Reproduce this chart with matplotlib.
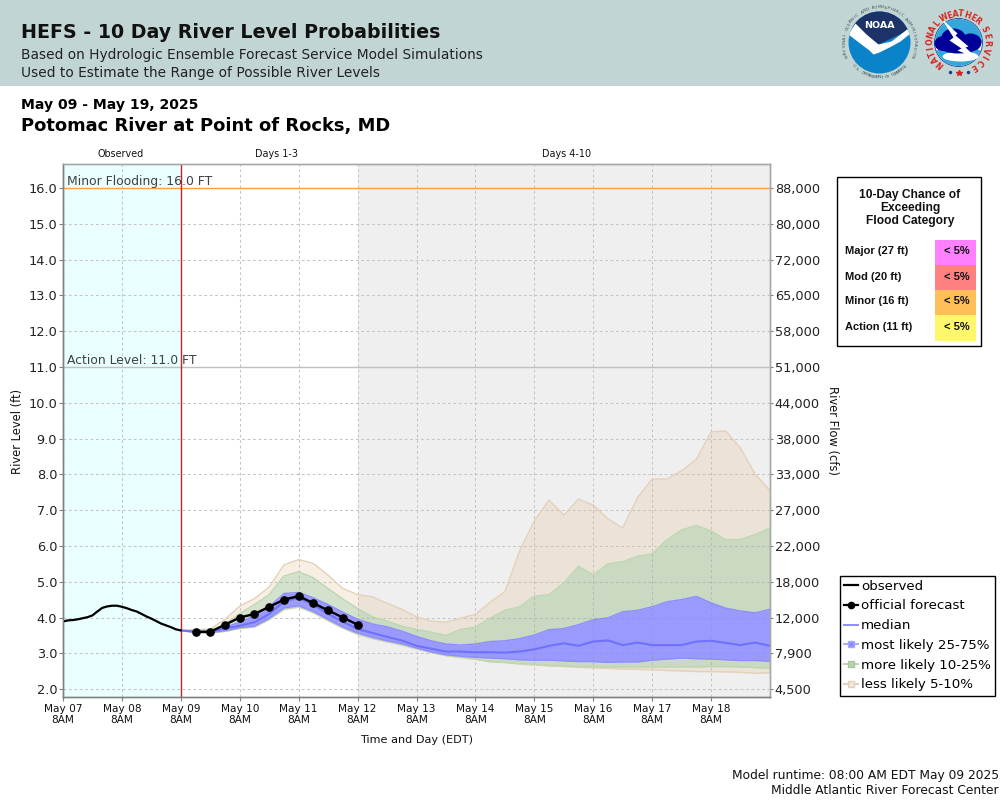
import numpy as np
import pandas as pd
import matplotlib
matplotlib.use("Agg")
import matplotlib.pyplot as plt
import matplotlib.dates as mdates
from matplotlib.lines import Line2D
from matplotlib.patches import Circle, Wedge, Polygon, Rectangle, Ellipse

# ---------- data ----------
observed_level = [3.89, 3.92, 3.93, 3.95, 3.98, 4.01, 4.06, 4.17, 4.27, 4.31, 4.33, 4.33, 4.30, 4.26, 4.21,
                  4.17, 4.10, 4.03, 3.97, 3.90, 3.83, 3.78, 3.73, 3.67, 3.64]
forecast_level = [3.6, 3.6, 3.8, 4.0, 4.1, 4.3, 4.5, 4.6, 4.4, 4.2, 4.0, 3.8]
tan_top = [3.65,3.66,3.68,3.95,4.32,4.53,4.85,5.47,5.62,5.51,5.18,4.81,4.64,4.58,4.40,
           4.23,4.02,3.90,3.87,3.98,4.09,4.43,4.72,5.86,6.70,7.28,6.86,7.31,7.14,6.76,6.50,
           7.35,7.87,7.87,8.10,8.42,9.19,9.21,8.73,8.00,7.54]
green_top = [3.64,3.63,3.65,3.80,4.11,4.36,4.64,5.16,5.28,5.11,4.81,4.52,4.25,4.02,3.90,
             3.76,3.67,3.59,3.50,3.67,3.73,3.98,4.20,4.30,4.60,4.64,4.97,5.43,5.19,5.50,5.56,
             5.71,5.78,6.17,6.45,6.57,6.42,6.17,6.18,6.32,6.50]
blue_top = [3.64,3.62,3.62,3.73,3.87,4.05,4.30,4.67,4.70,4.55,4.36,4.15,3.95,3.82,3.74,
            3.62,3.47,3.35,3.26,3.23,3.26,3.33,3.35,3.41,3.51,3.66,3.69,3.80,3.94,3.99,4.16,
            4.20,4.30,4.44,4.50,4.59,4.41,4.26,4.18,4.13,4.23]
median = [3.64,3.60,3.60,3.70,3.77,3.87,4.10,4.45,4.55,4.36,4.10,3.88,3.68,3.57,3.46,
          3.36,3.21,3.13,3.05,3.05,3.03,3.03,3.02,3.05,3.11,3.21,3.28,3.21,3.33,3.36,3.23,
          3.30,3.23,3.23,3.23,3.33,3.35,3.29,3.23,3.30,3.21]
blue_bottom = [3.64,3.59,3.58,3.63,3.72,3.76,3.98,4.27,4.33,4.17,3.95,3.74,3.57,3.45,3.35,
               3.27,3.15,3.04,2.96,2.92,2.89,2.87,2.85,2.82,2.81,2.81,2.79,2.77,2.77,2.75,2.76,
               2.76,2.81,2.84,2.87,2.85,2.84,2.82,2.80,2.80,2.78]
green_bottom = [3.64,3.58,3.57,3.62,3.70,3.74,3.95,4.23,4.30,4.14,3.92,3.71,3.54,3.42,3.33,
                3.24,3.13,3.03,2.94,2.89,2.84,2.77,2.75,2.71,2.69,2.66,2.65,2.63,2.63,2.62,2.62,
                2.62,2.62,2.62,2.62,2.62,2.63,2.63,2.62,2.60,2.58]
tan_bottom = [3.64,3.58,3.57,3.61,3.69,3.73,3.94,4.22,4.29,4.13,3.91,3.70,3.53,3.41,3.32,
              3.23,3.12,3.02,2.93,2.88,2.83,2.76,2.74,2.70,2.67,2.65,2.63,2.61,2.59,2.58,2.56,
              2.55,2.54,2.52,2.51,2.49,2.49,2.48,2.47,2.44,2.46]

level_ticks = [2.0,3.0,4.0,5.0,6.0,7.0,8.0,9.0,10.0,11.0,12.0,13.0,14.0,15.0,16.0]
flow_labels = ["4,500","7,900","12,000","18,000","22,000","27,000","33,000","38,000","44,000",
               "51,000","58,000","65,000","72,000","80,000","88,000"]
day_labels = ["May 07","May 08","May 09","May 10","May 11","May 12","May 13","May 14","May 15",
              "May 16","May 17","May 18"]
category_names = ["Major (27 ft)","Mod (20 ft)","Minor (16 ft)","Action (11 ft)"]
category_chance = ["< 5%","< 5%","< 5%","< 5%"]
category_colors = ["#FF80FF","#FF8080","#FFBF58","#FFF76B"]

t_obs = pd.date_range("2025-05-07 08:00", periods=len(observed_level), freq="2h")
t_fc = pd.date_range("2025-05-09 14:00", periods=len(forecast_level), freq="6h")
t_ens = pd.date_range("2025-05-09 08:00", periods=len(median), freq="6h")
day_ticks = pd.date_range("2025-05-07 08:00", periods=len(day_labels), freq="1D")
d = lambda s: mdates.date2num(pd.Timestamp(s))

# ---------- figure ----------
plt.rcParams["font.family"] = ["DejaVu Sans"]
W, H = 1000, 800
fig = plt.figure(figsize=(W/100, H/100), dpi=100, facecolor="white")

# pixel-space overlay
ov = fig.add_axes([0, 0, 1, 1], zorder=-1)
ov.set_xlim(0, W); ov.set_ylim(H, 0); ov.axis("off")
ov.add_patch(Rectangle((0, 0), W, 85.5, fc="#C1D6D4", ec="none"))
ov.text(21, 33, "HEFS - 10 Day River Level Probabilities", fontsize=13.65, fontweight="bold", color="#111111", va="center")
ov.text(21, 54.5, "Based on Hydrologic Ensemble Forecast Service Model Simulations", fontsize=9.9, color="#222222", va="center")
ov.text(21, 73, "Used to Estimate the Range of Possible River Levels", fontsize=9.9, color="#222222", va="center")
ov.text(21, 105, "May 09 - May 19, 2025", fontsize=10.1, fontweight="bold", color="black", va="center")
ov.text(21, 125.5, "Potomac River at Point of Rocks, MD", fontsize=12.9, fontweight="bold", color="black", va="center")
ov.text(120.5, 154, "Observed", fontsize=6.9, ha="center", va="center", color="#111111")
ov.text(276.5, 154, "Days 1-3", fontsize=6.9, ha="center", va="center", color="#111111")
ov.text(566.5, 154, "Days 4-10", fontsize=6.9, ha="center", va="center", color="#111111")
ov.text(417, 740, "Time and Day (EDT)", fontsize=8.1, ha="center", va="center", color="#111111")
ov.text(18, 431, "River Level (ft)", fontsize=8.3, rotation=90, ha="center", va="center", color="#111111")
ov.text(832, 431, "River Flow (cfs)", fontsize=8.3, rotation=-90, ha="center", va="center", color="#111111")
ov.text(999, 775.5, "Model runtime: 08:00 AM EDT May 09 2025", fontsize=8.85, ha="right", va="center", color="#111111")
ov.text(999, 791, "Middle Atlantic River Forecast Center", fontsize=8.85, ha="right", va="center", color="#111111")


def ring_text(txt, cx, cy, r, a0, a1, flip=False, **kw):
    """Place characters along a circle, angles in degrees, clockwise on screen from top."""
    for ch, a in zip(txt, np.linspace(a0, a1, len(txt))):
        rad = np.radians(a)
        rot = 180 - a if flip else -a
        ov.text(cx + r*np.sin(rad), cy - r*np.cos(rad), ch, rotation=rot, ha="center", va="center",
                rotation_mode="anchor", **kw)


def rel(cx, cy, pts):
    return [[cx + x, cy + y] for x, y in pts]


# NOAA logo
cx, cy = 879.5, 42.5
disc = Circle((cx, cy), 31, fc="#0B83C9", ec="none")
ov.add_patch(disc)
dark = Polygon(rel(cx, cy, [(-33, -33), (33, -33), (33, -14), (-1, 2), (-33, -20)]), fc="#1D3268", ec="none")
ov.add_patch(dark)
dark.set_clip_path(disc)
bird = Polygon(rel(cx, cy, [(-24, -19), (-13, -8), (-1, 2), (12, -1), (29, -14), (31, -9), (21, -1), (12, 4), (0, 10),
                            (-6, 12), (-10, 8), (-18, 2), (-31, -8)]), fc="white", ec="none")
ov.add_patch(bird)
bird.set_clip_path(disc)
ov.text(cx, cy-17, "NOAA", color="white", fontsize=6.8, fontweight="bold", ha="center", va="center")
ring_text("NATIONAL OCEANIC AND ATMOSPHERIC ADMINISTRATION", cx, cy, 35, -112, 112, fontsize=3.1, color="#44525C")
ring_text("U.S. DEPARTMENT OF COMMERCE", cx, cy, 35, 228, 132, flip=True, fontsize=3.1, color="#44525C")

# NWS logo
cx, cy = 958.5, 42.5
ov.add_patch(Circle((cx, cy), 24, fc="white", ec="#1B3F8F", lw=0.6))
ov.add_patch(Wedge((cx, cy), 23.5, 180, 360, fc="#35A6DC", ec="none"))
ov.add_patch(Wedge((cx, cy), 23.5, 20, 160, fc="#35A6DC", ec="none"))
ov.add_patch(Ellipse((cx+2, cy+14), 36, 10, fc="white", ec="none"))
for ex, ey, ew, eh in [(cx-15, cy+1, 18, 15), (cx-5, cy-5, 24, 18), (cx+12, cy, 22, 18), (cx, cy+5, 36, 12)]:
    ov.add_patch(Ellipse((ex, ey), ew, eh, fc="#000099", ec="none"))
ov.add_patch(Polygon(rel(cx, cy, [(-17, -24), (-1, -9), (-3, -7), (10, 4), (7, 5), (19, 16), (-1, 8), (3, 6), (-9, -2), (-5, -5)]),
                     fc="white", ec="none"))
ring_text("NATIONAL", cx, cy, 28.5, -139, -49, fontsize=5.6, fontweight="bold", color="#D8251F")
ring_text("WEATHER", cx, cy, 28.5, -30, 41, fontsize=5.6, fontweight="bold", color="#D8251F")
ring_text("SERVICE", cx, cy, 28.5, 63, 148, fontsize=5.6, fontweight="bold", color="#D8251F")
ov.plot([cx-9, cx+9], [cy+29, cy+29], ls="none", marker="o", ms=1.5, color="#1B3F8F")
ov.plot([cx], [cy+30], ls="none", marker="*", ms=4, color="#D8251F")

# ---------- main axes ----------
L, R, T, B = 63, 770, 164, 697
ax = fig.add_axes([L/W, 1-B/H, (R-L)/W, (B-T)/H], zorder=1)
ax.set_xlim(d("2025-05-07 08:00"), d("2025-05-19 08:00"))
ax.set_ylim(1.78, 16.67)
ax.axvspan(d("2025-05-07 08:00"), d("2025-05-09 08:00"), fc="#EAFFFF", ec="none", zorder=0)
ax.axvspan(d("2025-05-12 08:00"), d("2025-05-19 08:00"), fc="#EFEFEF", ec="none", zorder=0)
ax.grid(True, color="#C4C4C4", ls=(0, (2.6, 2.6)), lw=0.75, zorder=0.5)
ax.set_axisbelow(True)

ax.axhline(11, color="#C0C0C0", lw=1, zorder=1)
ax.axhline(16, color="#FFA040", lw=1, zorder=1)
ax.axvline(d("2025-05-09 08:00"), color="#CC2222", lw=1, zorder=1.5)
ax.text(d("2025-05-07 08:00")+0.06, 16.18, "Minor Flooding: 16.0 FT", fontsize=8.9, color="#404040", va="center", zorder=6)
ax.text(d("2025-05-07 08:00")+0.06, 11.18, "Action Level: 11.0 FT", fontsize=8.9, color="#404040", va="center", zorder=6)

TAN_F, GREEN_F, BLUE_F = "#DEB887", "#90B880", "#8787FF"
ax.fill_between(t_ens, green_top, tan_top, color=TAN_F, alpha=0.22, lw=0, zorder=2)
ax.fill_between(t_ens, tan_bottom, green_bottom, color=TAN_F, alpha=0.22, lw=0, zorder=2)
ax.fill_between(t_ens, blue_top, green_top, color=GREEN_F, alpha=0.4, lw=0, zorder=2)
ax.fill_between(t_ens, green_bottom, blue_bottom, color=GREEN_F, alpha=0.4, lw=0, zorder=2)
ax.fill_between(t_ens, blue_bottom, blue_top, color=BLUE_F, alpha=0.82, lw=0, zorder=2)
for s in (tan_top, tan_bottom):
    ax.plot(t_ens, s, color="#E5D0B8", lw=1, zorder=2.5)
for s in (green_top, green_bottom):
    ax.plot(t_ens, s, color="#BCD7B0", lw=1, zorder=2.5)
for s in (blue_top, blue_bottom):
    ax.plot(t_ens, s, color="#8C8CFF", lw=1, zorder=2.6)
ax.plot(t_ens, median, color="#7070FF", lw=1.5, zorder=3)
ax.plot(t_obs, observed_level, color="black", lw=1.6, zorder=4)
ax.plot(t_fc, forecast_level, color="black", lw=1.7, marker="o", ms=5.2, zorder=5)

ax.set_xticks(mdates.date2num(day_ticks))
ax.set_xticklabels([f"{n}\n8AM" for n in day_labels], fontsize=7.6, color="#111111", linespacing=1.12)
ax.set_yticks(level_ticks)
ax.set_yticklabels([f"{v:.1f}" for v in level_ticks], fontsize=9.3, color="#222222")
ax.tick_params(axis="both", length=3, width=0.8, color="#808080", pad=1.2)
ax.tick_params(axis="x", pad=2.4)

ax2 = ax.twinx()
ax2.set_ylim(ax.get_ylim())
ax2.set_yticks(level_ticks)
ax2.set_yticklabels(flow_labels, fontsize=9.3, color="#222222")
ax2.tick_params(axis="y", length=2.2, width=0.8, color="#808080", pad=1.2)
for a in (ax, ax2):
    for k in ("left", "bottom"):
        a.spines[k].set_color("#808080")
        a.spines[k].set_linewidth(1)
    for k in ("top", "right"):
        a.spines[k].set_color("#A8A8A8")
        a.spines[k].set_linewidth(1)

# ---------- flood category box ----------
ov2 = fig.add_axes([0, 0, 1, 1], zorder=3)
ov2.set_xlim(0, W); ov2.set_ylim(H, 0); ov2.axis("off"); ov2.patch.set_alpha(0)
ov2.add_patch(Rectangle((836.5, 176.5), 144, 169, fc="white", ec="black", lw=1))
for txt, y in zip(["10-Day Chance of", "Exceeding", "Flood Category"], [195, 208, 221]):
    ov2.text(910, y, txt, family="Liberation Sans", fontweight="bold", fontsize=8.65, ha="center", va="center", color="#111111")
for i, (name, chance, col) in enumerate(zip(category_names, category_chance, category_colors)):
    y0 = 240 + i*25
    ov2.add_patch(Rectangle((935, y0), 41, 25 if i < 3 else 26, fc=col, ec="none"))
    ov2.text(845, y0+11.5, name, family="Liberation Sans", fontweight="bold", fontsize=8, va="center", color="#111111")
    ov2.text(969.7, y0+11.5, chance, family="Liberation Sans", fontweight="bold", fontsize=8, ha="right", va="center", color="#111111")

# ---------- legend ----------
handles = [
    Line2D([], [], color="black", lw=1.6),
    Line2D([], [], color="black", lw=1.6, marker="o", ms=4.5),
    Line2D([], [], color="#8C8CFF", lw=1.4),
    Line2D([], [], color="#A8A8FF", lw=1.4, marker="s", ms=5, mfc="#8C8CFF", mec="#A8A8FF"),
    Line2D([], [], color="#BCD7B0", lw=1.4, marker="s", ms=5, mfc="#B8D3AC", mec="#A8C89C"),
    Line2D([], [], color="#E5D0B8", lw=1.4, marker="s", ms=5, mfc="#F0E8DD", mec="#E5D0B8"),
]
labels = ["observed", "official forecast", "median", "most likely 25-75%", "more likely 10-25%", "less likely 5-10%"]
fig.legend(handles, labels, loc="upper left", bbox_to_anchor=(839.5/W, 1-575.5/H), fontsize=9.65,
           frameon=True, fancybox=False, edgecolor="black", framealpha=1, labelspacing=0.5,
           handlelength=1.08, handletextpad=0.2, borderpad=0.32, borderaxespad=0).set_zorder(4)

fig.savefig("out.png", dpi=100)
